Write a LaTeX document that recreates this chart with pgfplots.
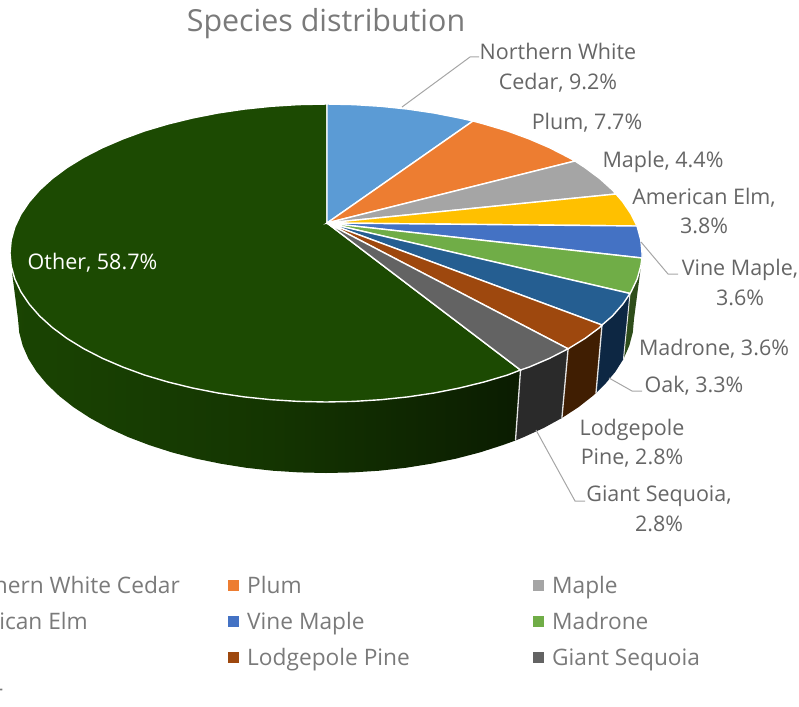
\documentclass[border=0pt]{standalone}
\usepackage{fontspec}
\setmainfont{Open Sans}
\usepackage{pgfplots}
\pgfplotsset{compat=1.18}
\definecolor{cCedar}{HTML}{5B9BD5}
\definecolor{cPlum}{HTML}{ED7D31}
\definecolor{cMaple}{HTML}{A5A5A5}
\definecolor{cElm}{HTML}{FFC000}
\definecolor{cVine}{HTML}{4472C4}
\definecolor{cMadrone}{HTML}{70AD47}
\definecolor{cOak}{HTML}{255E91}
\definecolor{cLodge}{HTML}{9E480E}
\definecolor{cGiant}{HTML}{636363}
\definecolor{cOther}{HTML}{1C4A02}
\definecolor{rimGiant}{HTML}{2A2A2A}
\definecolor{rimLodge}{HTML}{401E02}
\definecolor{rimOak}{HTML}{0D2743}
\definecolor{rimMadrone}{HTML}{2E4D1A}
\definecolor{txtLabel}{HTML}{666666}
\definecolor{txtLegend}{HTML}{7A7A7A}
\definecolor{leader}{HTML}{A6A6A6}
\tikzset{
  lab/.style={font=\fontsize{21.5}{26}\selectfont, text=txtLabel, inner sep=0pt, anchor=center, text height=18pt, text depth=2pt},
  leg/.style={font=\fontsize{22.7}{26}\selectfont, text=txtLegend, inner sep=0pt, text height=18pt, text depth=2pt},
}
\begin{document}
\begin{tikzpicture}
\clip (0,0) rectangle (799pt,706pt);
\begin{axis}[
  scale only axis, width=799pt, height=706pt,
  xmin=0, xmax=799, ymin=0, ymax=706, y dir=reverse,
  hide axis, clip=false,
  every axis plot/.append style={mark=none, forget plot},
]
% Rim of the disc, one face per slice
\addplot[draw=none, left color=cOther!92!black, right color=black!62!cOther, middle color=black!28!cOther] coordinates {
  (520.5,370)(507.3,375.1)(484,382)(459.5,388)(434.1,393)(407.8,396.9)(380.9,399.7)(353.6,401.4)(326,402)
  (298.4,401.4)(271.1,399.7)(244.2,396.9)(217.9,393)(192.5,388)(168,382)(144.7,375.1)(122.9,367.1)(102.6,358.4)
  (83.9,348.8)(67.1,338.5)(52.3,327.5)(39.6,316)(29.1,304)(20.8,291.6)(14.8,278.9)(12,272)
  (18,319)(19.2,332.4)(22.7,345.7)(28.5,358.9)(36.6,371.7)(46.9,384.1)(59.3,396)(73.7,407.3)(90.1,418)(108.2,427.9)
  (128,437)(149.3,445.1)(172,452.4)(195.8,458.6)(220.7,463.7)(246.3,467.8)(272.5,470.7)(299.1,472.4)(326,473)
  (352.9,472.4)(379.5,470.7)(405.7,467.8)(431.3,463.7)(456.2,458.6)(480,452.4)(502.7,445.1)(515.5,440.5)
} -- cycle;
\addplot[draw=none, fill=rimGiant] coordinates {
  (520.5,370)(529.1,367.1)(549.4,358.4)(568.1,348.8)(561.9,418)(543.8,427.9)(524,437)(515.5,440.5)} -- cycle;
\addplot[draw=none, fill=rimLodge] coordinates {
  (568.1,348.8)(584.9,338.5)(599.7,327.5)(602,325)(596,393)(592.7,396)(578.3,407.3)(561.9,418)} -- cycle;
\addplot[draw=none, fill=rimOak] coordinates {
  (602,325)(612.4,316)(622.9,304)(630,293.5)(623.5,358.9)(615.4,371.7)(605.1,384.1)(596,393)} -- cycle;
\addplot[draw=none, fill=rimMadrone] coordinates {
  (630,293.5)(631.2,291.6)(637.2,278.9)(640.8,266)(642,258)(634,319)(632.8,332.4)(629.3,345.7)(623.5,358.9)} -- cycle;
% Dividing lines on the rim
\addplot[draw=white!90!black, line width=1.3pt] coordinates {(520.5,370)(515.5,440.5)};
\addplot[draw=white!90!black, line width=1.3pt] coordinates {(568.1,348.8)(561.9,418)};
\addplot[draw=white!90!black, line width=1.3pt] coordinates {(602,325)(596,393)};
\addplot[draw=white!90!black, line width=1pt] coordinates {(630,293.5)(623.5,358.9)};
% Top face
\addplot[fill=cOther, draw=white, line width=1.4pt] coordinates {
  (327,223)(520.5,370)(507.3,375.1)(484,382)(459.5,388)(434.1,393)(407.8,396.9)(380.9,399.7)(353.6,401.4)(326,402)
  (298.4,401.4)(271.1,399.7)(244.2,396.9)(217.9,393)(192.5,388)(168,382)(144.7,375.1)(122.9,367.1)(102.6,358.4)
  (83.9,348.8)(67.1,338.5)(52.3,327.5)(39.6,316)(29.1,304)(20.8,291.6)(14.8,278.9)(11.2,266)(10,253)(11.2,240)
  (14.8,227.1)(20.8,214.4)(29.1,202)(39.6,190)(52.3,178.5)(67.1,167.5)(83.9,157.2)(102.6,147.6)(122.9,138.9)
  (144.7,130.9)(168,124)(192.5,118)(217.9,113)(244.2,109.1)(271.1,106.3)(298.4,104.6)(327,104)} -- cycle;
\addplot[fill=cCedar, draw=white, line width=1.4pt] coordinates {
  (327,223)(327,104)(353.6,104.6)(380.9,106.3)(407.8,109.1)(434.1,113)(459.5,118)(473,121)} -- cycle;
\addplot[fill=cPlum, draw=white, line width=1.4pt] coordinates {
  (327,223)(473,121)(484,124)(507.3,130.9)(529.1,138.9)(549.4,147.6)(568.1,157.2)(575,161)} -- cycle;
\addplot[fill=cMaple, draw=white, line width=1.4pt] coordinates {
  (327,223)(575,161)(584.9,167.5)(599.7,178.5)(612.4,190)(616,194)} -- cycle;
\addplot[fill=cElm, draw=white, line width=1.4pt] coordinates {
  (327,223)(616,194)(622.9,202)(631.2,214.4)(637,226)} -- cycle;
\addplot[fill=cVine, draw=white, line width=1.4pt] coordinates {
  (327,223)(637,226)(640.8,240)(642,253)(642,258)} -- cycle;
\addplot[fill=cMadrone, draw=white, line width=1.4pt] coordinates {
  (327,223)(642,258)(640.8,266)(637.2,278.9)(631.2,291.6)(630,293.5)} -- cycle;
\addplot[fill=cOak, draw=white, line width=1.4pt] coordinates {
  (327,223)(630,293.5)(622.9,304)(612.4,316)(602,325)} -- cycle;
\addplot[fill=cLodge, draw=white, line width=1.4pt] coordinates {
  (327,223)(602,325)(599.7,327.5)(584.9,338.5)(568.1,348.8)} -- cycle;
\addplot[fill=cGiant, draw=white, line width=1.4pt] coordinates {
  (327,223)(568.1,348.8)(549.4,358.4)(529.1,367.1)(520.5,370)} -- cycle;
% Leader lines
\addplot[draw=leader, line width=1pt] coordinates {(402,107)(470,57)(479,57)};
\addplot[draw=leader, line width=1pt] coordinates {(641,242)(668,274)(678,274)};
\addplot[draw=leader, line width=1pt] coordinates {(609,378)(632,391)(642,391)};
\addplot[draw=leader, line width=1pt] coordinates {(536,430)(575,501)(585,501)};
% Legend keys
\addplot[only marks, mark=square*, mark size=5pt, mark options={fill=cPlum, draw=cPlum}] coordinates {(233,585)};
\addplot[only marks, mark=square*, mark size=5pt, mark options={fill=cMaple, draw=cMaple}] coordinates {(538,585)};
\addplot[only marks, mark=square*, mark size=5pt, mark options={fill=cVine, draw=cVine}] coordinates {(233,621)};
\addplot[only marks, mark=square*, mark size=5pt, mark options={fill=cMadrone, draw=cMadrone}] coordinates {(538,621)};
\addplot[only marks, mark=square*, mark size=5pt, mark options={fill=cLodge, draw=cLodge}] coordinates {(233,657)};
\addplot[only marks, mark=square*, mark size=5pt, mark options={fill=cGiant, draw=cGiant}] coordinates {(538,657)};
% Title and slice labels
\node[font=\fontsize{30.4}{36}\selectfont, text=txtLegend, inner sep=0pt, text height=24pt, text depth=8pt] at (326,24) {Species distribution};
\node[lab] at (558,52) {Northern White};
\node[lab] at (558,81) {Cedar, 9.2\%};
\node[lab] at (587,121) {Plum, 7.7\%};
\node[lab] at (663,159) {Maple, 4.4\%};
\node[lab] at (704,196) {American Elm,};
\node[lab] at (704,225) {3.8\%};
\node[lab] at (740,267) {Vine Maple,};
\node[lab] at (740,297) {3.6\%};
\node[lab] at (714,347) {Madrone, 3.6\%};
\node[lab] at (694,384) {Oak, 3.3\%};
\node[lab] at (632,427) {Lodgepole};
\node[lab] at (632,456) {Pine, 2.8\%};
\node[lab] at (659,493) {Giant Sequoia,};
\node[lab] at (659,523) {2.8\%};
\node[lab, text=white] at (92.5,261) {Other, 58.7\%};
% Legend entries
\node[leg, anchor=east] at (180,585) {Northern White Cedar};
\node[leg, anchor=west] at (247,585) {Plum};
\node[leg, anchor=west] at (552,585) {Maple};
\node[leg, anchor=east] at (88,621) {American Elm};
\node[leg, anchor=west] at (247,621) {Vine Maple};
\node[leg, anchor=west] at (552,621) {Madrone};
\node[leg, anchor=west] at (247,657) {Lodgepole Pine};
\node[leg, anchor=west] at (552,657) {Giant Sequoia};
\node[leg, anchor=east] at (3,693) {Other};
\end{axis}
\end{tikzpicture}
\end{document}
